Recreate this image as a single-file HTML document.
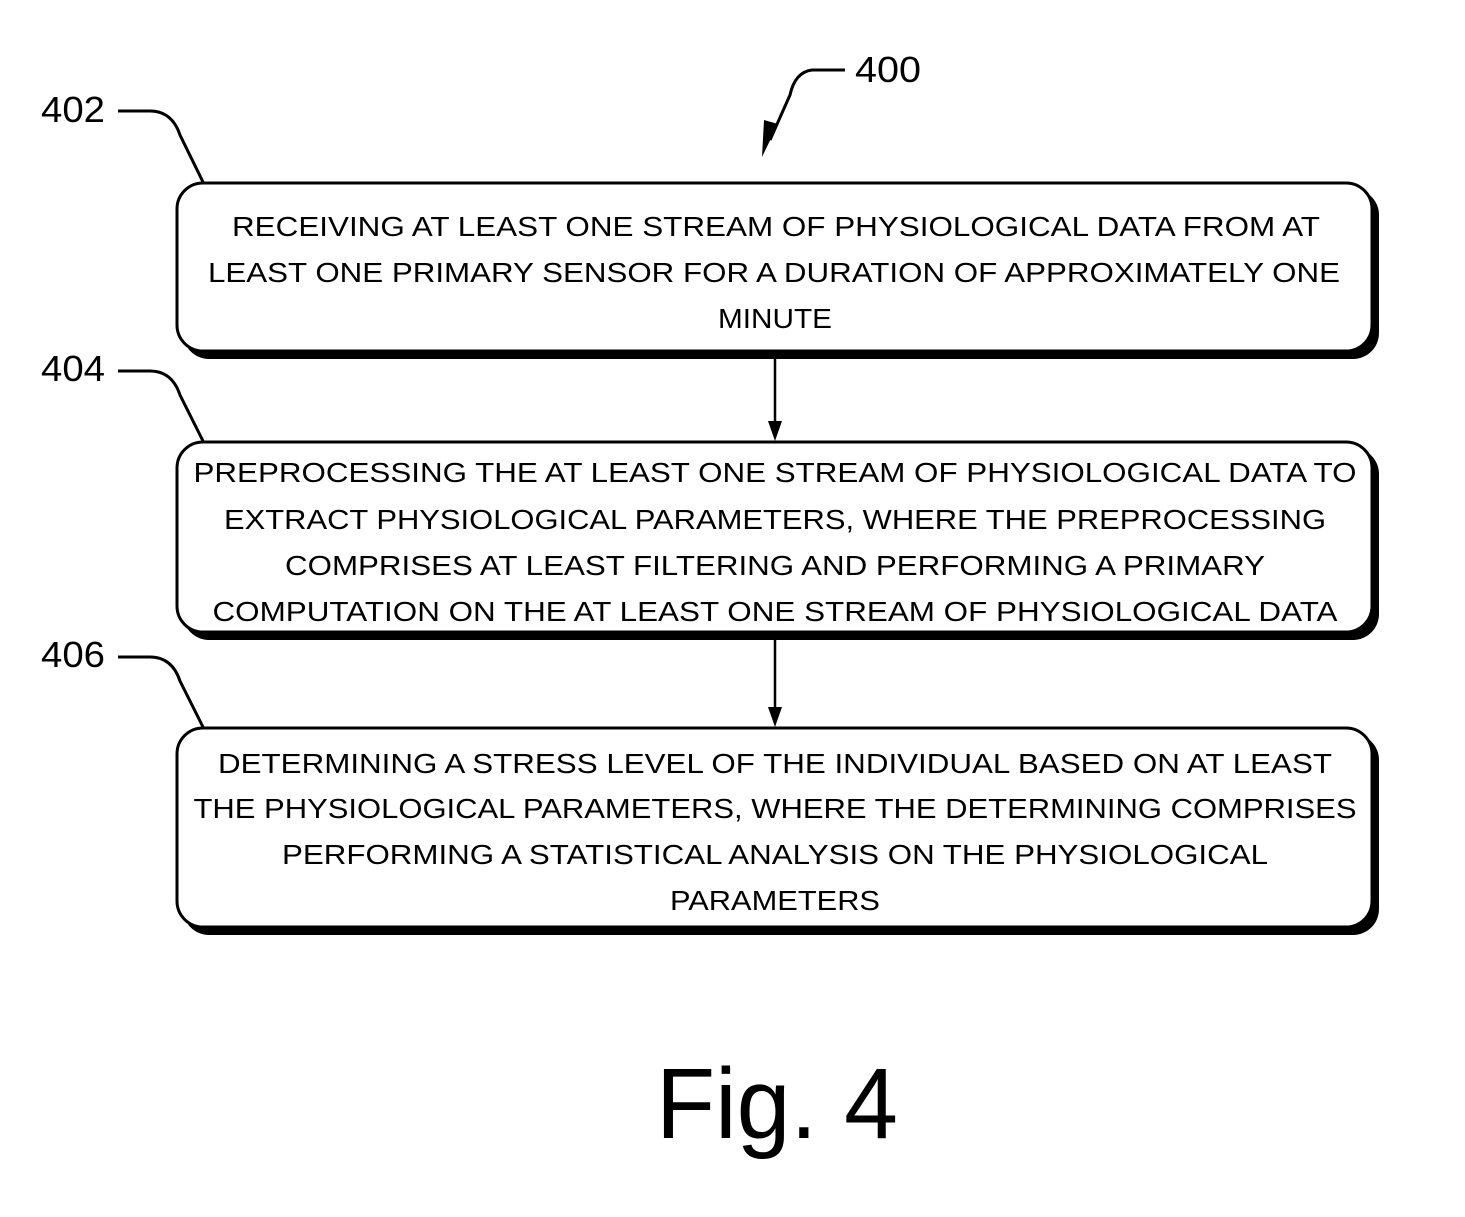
<!DOCTYPE html>
<html><head><meta charset="utf-8"><style>
html,body{margin:0;padding:0;background:#fff;}
svg{display:block;}
text{font-family:"Liberation Sans",Arial,sans-serif;fill:#000;}
.t{font-size:28px;}
.n{font-size:36px;}
</style></head><body>
<svg width="1465" height="1217" viewBox="0 0 1465 1217" xmlns="http://www.w3.org/2000/svg">

<!-- leader 400 -->
<text class="n" x="855" y="82" textLength="66" lengthAdjust="spacingAndGlyphs">400</text>
<path d="M845,70 L812,70 Q795,72 790,95 L770,140" fill="none" stroke="#000" stroke-width="3"/>
<path d="M762,157 L764,120 L778,124 Z" fill="#000"/>

<!-- leaders -->
<text class="n" x="41" y="122" textLength="64" lengthAdjust="spacingAndGlyphs">402</text>
<path d="M118,111 L150,111 Q172,111 180,135 L203,182" fill="none" stroke="#000" stroke-width="3"/>
<text class="n" x="41" y="381" textLength="64" lengthAdjust="spacingAndGlyphs">404</text>
<path d="M118,371 L150,371 Q172,371 180,395 L203,441" fill="none" stroke="#000" stroke-width="3"/>
<text class="n" x="41" y="667" textLength="64" lengthAdjust="spacingAndGlyphs">406</text>
<path d="M118,657 L150,657 Q172,657 180,681 L203,727" fill="none" stroke="#000" stroke-width="3"/>

<!-- box 1 -->
<rect x="183" y="189" width="1196" height="170" rx="26" fill="#000"/>
<rect x="177" y="183" width="1195" height="168" rx="26" fill="#fff" stroke="#000" stroke-width="3"/>
<g class="t" text-anchor="middle">
<text x="776" y="236" textLength="1088" lengthAdjust="spacingAndGlyphs">RECEIVING AT LEAST ONE STREAM OF PHYSIOLOGICAL DATA FROM AT</text>
<text x="774" y="282" textLength="1132" lengthAdjust="spacingAndGlyphs">LEAST ONE PRIMARY SENSOR FOR A DURATION OF APPROXIMATELY ONE</text>
<text x="775" y="328" textLength="114" lengthAdjust="spacingAndGlyphs">MINUTE</text>
</g>

<line x1="775" y1="359" x2="775" y2="425" stroke="#000" stroke-width="2.5"/>
<path d="M768,421 L782,421 L775,441 Z" fill="#000"/>

<!-- box 2 -->
<rect x="183" y="448" width="1196" height="192" rx="26" fill="#000"/>
<rect x="177" y="442" width="1195" height="190" rx="26" fill="#fff" stroke="#000" stroke-width="3"/>
<g class="t" text-anchor="middle">
<text x="775" y="482" textLength="1163" lengthAdjust="spacingAndGlyphs">PREPROCESSING THE AT LEAST ONE STREAM OF PHYSIOLOGICAL DATA TO</text>
<text x="775" y="529" textLength="1102" lengthAdjust="spacingAndGlyphs">EXTRACT PHYSIOLOGICAL PARAMETERS, WHERE THE PREPROCESSING</text>
<text x="775" y="575" textLength="980" lengthAdjust="spacingAndGlyphs">COMPRISES AT LEAST FILTERING AND PERFORMING A PRIMARY</text>
<text x="775" y="621" textLength="1125" lengthAdjust="spacingAndGlyphs">COMPUTATION ON THE AT LEAST ONE STREAM OF PHYSIOLOGICAL DATA</text>
</g>

<line x1="775" y1="640" x2="775" y2="711" stroke="#000" stroke-width="2.5"/>
<path d="M768,707 L782,707 L775,727 Z" fill="#000"/>

<!-- box 3 -->
<rect x="183" y="734" width="1196" height="201" rx="26" fill="#000"/>
<rect x="177" y="728" width="1195" height="199" rx="26" fill="#fff" stroke="#000" stroke-width="3"/>
<g class="t" text-anchor="middle">
<text x="775" y="773" textLength="1114" lengthAdjust="spacingAndGlyphs">DETERMINING A STRESS LEVEL OF THE INDIVIDUAL BASED ON AT LEAST</text>
<text x="775" y="818" textLength="1163" lengthAdjust="spacingAndGlyphs">THE PHYSIOLOGICAL PARAMETERS, WHERE THE DETERMINING COMPRISES</text>
<text x="775" y="864" textLength="986" lengthAdjust="spacingAndGlyphs">PERFORMING A STATISTICAL ANALYSIS ON THE PHYSIOLOGICAL</text>
<text x="775" y="910" textLength="210" lengthAdjust="spacingAndGlyphs">PARAMETERS</text>
</g>

<text x="777" y="1138" text-anchor="middle" style="font-size:100px" textLength="242" lengthAdjust="spacingAndGlyphs">Fig. 4</text>
</svg>
</body></html>
